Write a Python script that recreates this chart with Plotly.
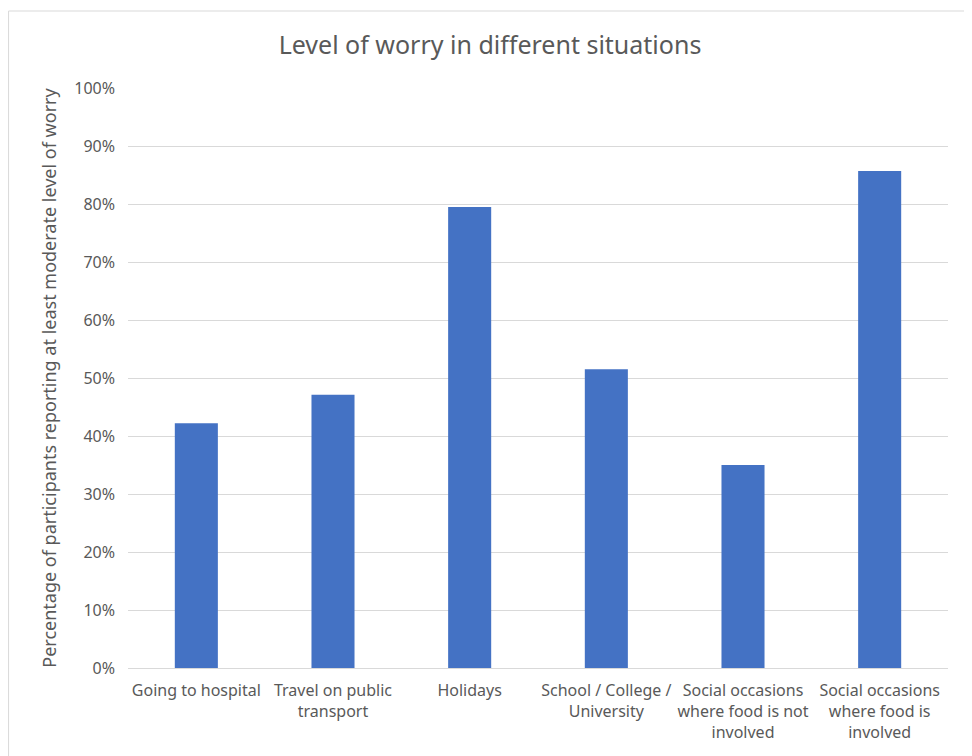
import plotly.graph_objects as go

FONT = "Noto Sans, sans-serif"

categories = [
    "Going to hospital",
    "Travel on public<br>transport",
    "Holidays",
    "School / College /<br>University",
    "Social occasions<br>where food is not<br>involved",
    "Social occasions<br>where food is<br>involved",
]
worry_share = [0.422, 0.471, 0.795, 0.515, 0.350, 0.857]
tick_vals = [i / 10 for i in range(11)]
tick_text = [f"{i * 10}%" for i in range(11)]

# page body has an 8px margin, so the figure is sized/offset to compensate
W, H = 964, 748
L, T = 120, 80
R, B = 23.5, 88
pw, ph = W - L - R, H - T - B

fig = go.Figure(
    go.Bar(
        x=categories,
        y=worry_share,
        marker=dict(color="#4472C4", line=dict(width=0)),
        width=0.315,
    )
)

fig.update_layout(
    width=W,
    height=H,
    margin=dict(l=L, r=R, t=T, b=B),
    paper_bgcolor="white",
    plot_bgcolor="white",
    showlegend=False,
    title=dict(
        text="Level of worry in different situations",
        x=0.5,
        xanchor="center",
        y=1 - 37 / H,
        yanchor="middle",
        font=dict(family=FONT, size=25, color="#595959"),
    ),
    font=dict(family=FONT, size=16, color="#595959"),
)

fig.update_xaxes(
    showgrid=False,
    showline=True,
    linecolor="#D9D9D9",
    linewidth=1,
    ticks="",
    ticklabelstandoff=8,
    tickfont=dict(family=FONT, size=16, color="#595959"),
    tickangle=0,
)

fig.update_yaxes(
    range=[0, 1],
    tickvals=tick_vals,
    ticktext=tick_text,
    showgrid=True,
    gridcolor="#D9D9D9",
    gridwidth=1,
    zeroline=False,
    ticks="",
    ticklabelstandoff=12,
    tickfont=dict(family=FONT, size=16, color="#595959"),
    title=dict(
        text="Percentage of participants reporting at least moderate level of worry",
        font=dict(family=FONT, size=18, color="#595959"),
        standoff=12,
    ),
)

fig.add_shape(
    type="rect",
    xref="paper",
    yref="paper",
    x0=(0.5 - L) / pw,
    x1=1.2,
    y0=-0.3,
    y1=1 + (T - 3) / ph,
    line=dict(color="#D9D9D9", width=1),
    fillcolor="rgba(0,0,0,0)",
)

fig.write_html("out.html")
